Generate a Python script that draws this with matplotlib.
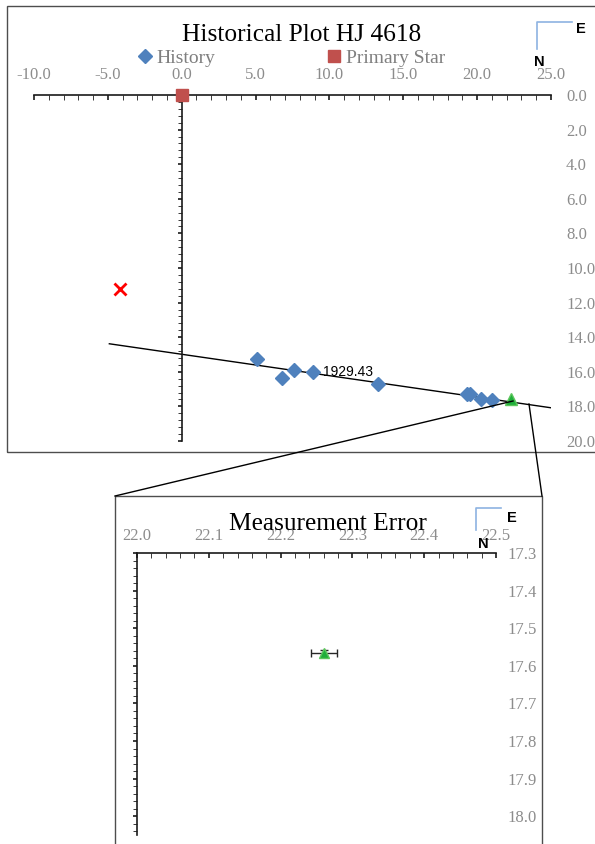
import matplotlib.pyplot as plt
from matplotlib.ticker import MultipleLocator, FormatStrFormatter
from matplotlib.lines import Line2D
from matplotlib.patches import Rectangle
import numpy as np

plt.rcParams['font.family'] = ['Liberation Serif', 'DejaVu Serif']
plt.rcParams['axes.unicode_minus'] = False

# past measurements of the companion (x = east offset, y = north offset)
hist_x = [5.09, 6.78, 7.57, 8.90, 13.26, 19.30, 19.53, 20.25, 21.01]
hist_y = [15.26, 16.38, 15.91, 16.01, 16.71, 17.30, 17.27, 17.59, 17.63]
hist_labels = ['', '', '', '1929.43', '', '', '', '', '']

primary_x = [0.0]
primary_y = [0.0]

# latest measurement and its error
latest_x = [22.26]
latest_y = [17.565]
latest_xerr = [0.018]
latest_yerr = [0.008]

# odd point marked with a red cross
cross_x = [-4.19]
cross_y = [11.21]

# fitted line through the history
trend_x = [-4.9, 25.0]
trend_y = [14.38, 18.08]

# tick labels shown on the right of each chart
top_yticks = [0.0, 2.0, 4.0, 6.0, 8.0, 10.0, 12.0, 14.0, 16.0, 18.0, 20.0]
zoom_yticks = [17.3, 17.4, 17.5, 17.6, 17.7, 17.8, 17.9, 18.0]

W, H = 595, 844
GREY = '#8c8c8c'
fig = plt.figure(figsize=(W / 100, H / 100), dpi=100)


def box(x0, y0, x1, y1):
    # pixel box -> figure fraction rect
    return [x0 / W, 1 - y1 / H, (x1 - x0) / W, (y1 - y0) / H]


def fpt(x, y):
    return x / W, 1 - y / H


def style_axes(ax, xmaj, xmin, ymaj, ymin, yticks, pad_x, pad_y, cross_at=None):
    ax.spines['right'].set_visible(False)
    ax.spines['bottom'].set_visible(False)
    for s in ('top', 'left'):
        ax.spines[s].set_linewidth(1.2)
        ax.spines[s].set_color('#1a1a1a')
    if cross_at is not None:
        ax.spines['left'].set_position(('data', cross_at))
    ax.xaxis.tick_top()
    ax.xaxis.set_major_locator(MultipleLocator(xmaj))
    ax.xaxis.set_minor_locator(MultipleLocator(xmin))
    ax.yaxis.set_major_locator(MultipleLocator(ymaj))
    ax.yaxis.set_minor_locator(MultipleLocator(ymin))
    ax.xaxis.set_major_formatter(FormatStrFormatter('%.1f'))
    ax.tick_params(axis='x', which='both', direction='in', length=3.6,
                   labelsize=12, labelcolor=GREY, pad=pad_x, color='#1a1a1a')
    ax.tick_params(axis='x', which='major', width=1.2)
    ax.tick_params(axis='y', which='both', direction='out', length=2.8,
                   labelleft=False, color='#1a1a1a')
    ax.tick_params(axis='y', which='major', width=1.2)
    # y labels sit on the far right side
    sec = ax.secondary_yaxis('right')
    sec.spines['right'].set_visible(False)
    sec.set_yticks(yticks)
    sec.yaxis.set_major_formatter(FormatStrFormatter('%.1f'))
    sec.tick_params(length=0, pad=pad_y, labelsize=12, labelcolor=GREY)
    sec.tick_params(which='minor', length=0)


# ---- top chart ----
ax = fig.add_axes(box(34, 95, 551, 441))
ax.set_xlim(-10, 25)
ax.set_ylim(20, 0)
style_axes(ax, 5, 1, 2, 0.4, top_yticks, 8.6, 10.8, cross_at=0)

ax.plot(trend_x, trend_y, color='black', lw=1, zorder=2)
ax.plot(hist_x, hist_y, 'D', color='#4f81bd', ms=7, label='History', zorder=4)
ax.plot(primary_x, primary_y, 's', color='#c0504d', ms=8.5, label='Primary Star',
        zorder=5, clip_on=False)
ax.plot(latest_x, latest_y, '^', color='#1fae3a', mec='#5cc65c', ms=8, zorder=5)
ax.plot(cross_x, cross_y, 'x', color='#ff0000', ms=8, mew=2, zorder=5)
for x, y, t in zip(hist_x, hist_y, hist_labels):
    if t:
        ax.annotate(t, (x, y), xytext=(7, 0), textcoords='offset points',
                    va='center', ha='left', fontsize=10,
                    family=['Liberation Sans', 'DejaVu Sans'])

ax.legend(loc='center left', bbox_to_anchor=fpt(139, 58), bbox_transform=fig.transFigure,
          ncol=2, frameon=False, fontsize=14, handlelength=0.6, handletextpad=0.3,
          columnspacing=5.8, borderpad=0, borderaxespad=0, labelcolor='#7f7f7f')

# ---- zoomed chart ----
ax2 = fig.add_axes(box(137, 553, 496, 835))
ax2.set_xlim(22.0, 22.5)
ax2.set_ylim(18.05, 17.3)
style_axes(ax2, 0.1, 0.02, 0.1, 0.02, zoom_yticks, 6.8, 8.6)
ax2.errorbar(latest_x, latest_y, xerr=latest_xerr, yerr=latest_yerr, fmt='none',
             ecolor='#262626', elinewidth=1, capsize=3, capthick=1, zorder=3)
ax2.plot(latest_x, latest_y, '^', color='#1fae3a', mec='#5cc65c', ms=7, zorder=4)

# ---- titles, compass, frames and connectors ----
fig.text(*fpt(302, 41), 'Historical Plot HJ 4618', ha='center', va='baseline', fontsize=18.3)
fig.text(*fpt(328, 530), 'Measurement Error', ha='center', va='baseline', fontsize=18.3)

sans = ['Liberation Sans', 'DejaVu Sans']
for (hx0, hx1, hy, vy1), (ex, ey), (nx, ny) in [
        ((537, 572, 22, 49), (581, 29), (539, 62.5)),
        ((476, 501, 508, 530), (511.5, 517.5), (483.5, 544.5))]:
    xs, ys = zip(fpt(hx1, hy), fpt(hx0, hy), fpt(hx0, vy1))
    fig.add_artist(Line2D(xs, ys, transform=fig.transFigure, color='#8db3e2', lw=1.2))
    fig.text(*fpt(ex, ey), 'E', ha='center', va='center', fontsize=10.5,
             fontweight='bold', family=sans)
    fig.text(*fpt(nx, ny), 'N', ha='center', va='center', fontsize=10.5,
             fontweight='bold', family=sans)

fig.add_artist(Rectangle(fpt(7, 452), 600 / W, 446 / H, transform=fig.transFigure,
                         fill=False, ec='#4d4d4d', lw=1))
fig.add_artist(Rectangle(fpt(115, 850), 427 / W, 354 / H, transform=fig.transFigure,
                         fill=False, ec='#4d4d4d', lw=1))
for (a, b), (c, d) in [((115, 496), (513, 401)), ((542, 496), (529, 404))]:
    xs, ys = zip(fpt(a, b), fpt(c, d))
    fig.add_artist(Line2D(xs, ys, transform=fig.transFigure, color='black', lw=1))

fig.savefig('out.png', dpi=100)
